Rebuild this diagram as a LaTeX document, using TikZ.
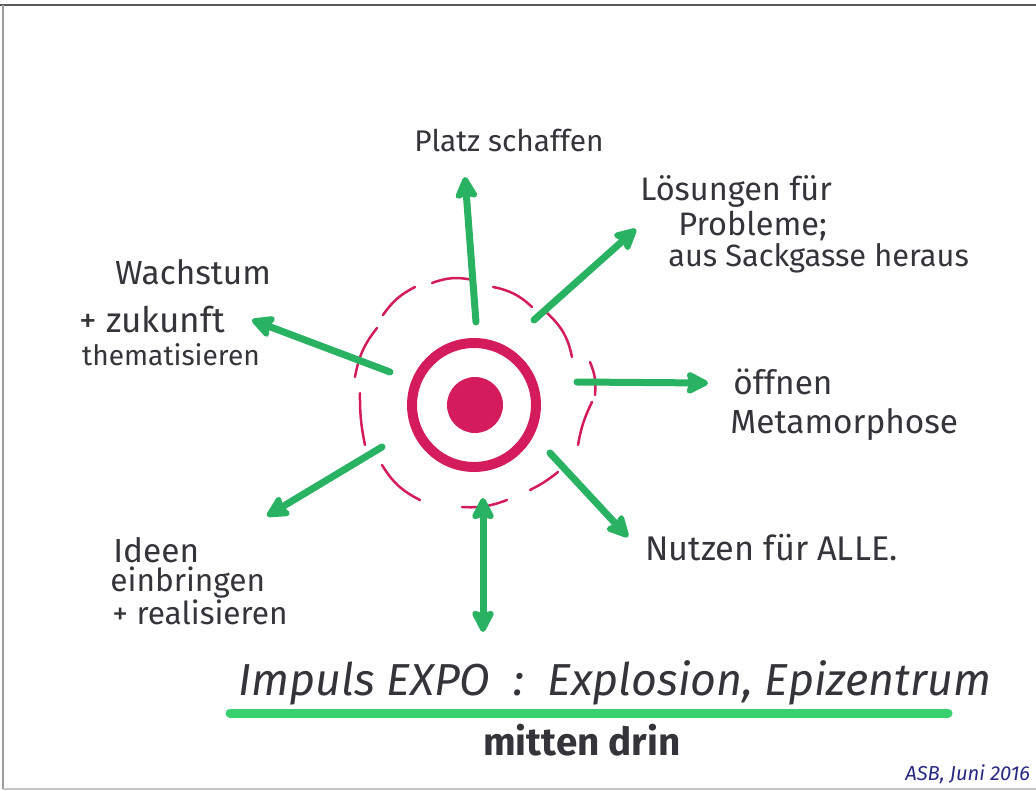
\documentclass[tikz,border=0pt]{standalone}
\usepackage{fontspec}
\setmainfont{Fira Sans}
\usetikzlibrary{arrows.meta}

\definecolor{marker}{RGB}{40,178,98}
\definecolor{underl}{RGB}{58,208,112}
\definecolor{rose}{RGB}{212,28,92}
\definecolor{ink}{RGB}{52,52,58}
\definecolor{sigblue}{RGB}{40,42,130}
\definecolor{edge}{RGB}{90,90,90}

\tikzset{
  ray/.style={draw=marker, line width=0.14cm, line cap=round, line join=round,
    -{Stealth[length=0.52cm,width=0.52cm,inset=0.08cm,round]}},
  biray/.style={ray, {Stealth[length=0.52cm,width=0.52cm,inset=0.08cm,round]}-{Stealth[length=0.52cm,width=0.52cm,inset=0.08cm,round]}},
  halo/.style={draw=rose, line width=0.05cm, line cap=round},
  hand/.style={text=ink, inner sep=0pt},
  handw/.style={hand, anchor=west},
}
\newcommand{\fs}[1]{\fontsize{#1}{#1}\selectfont}

\begin{document}
\begin{tikzpicture}[x=0.02cm, y=-0.02cm]
  \useasboundingbox (0,0) rectangle (1036,791);
  \fill[white] (0,0) rectangle (1036,791);

  % edge of the scanned sheet
  \draw[edge, line width=0.04cm] (0,5) -- (1036,5);
  \draw[edge!60, line width=0.03cm] (3,5) -- (3,789);
  \draw[edge!35, line width=0.03cm] (3,789) -- (1036,789);

  % centre: ring and dot
  \node (ring) [circle, draw=rose, line width=0.2cm, minimum size=2.48cm, inner sep=0pt] at (474,405) {};
  \node (dot) [circle, fill=rose, minimum size=1.12cm, inner sep=0pt] at (475,405) {};

  % dashed halo around the centre, scallops bulging outwards
  \draw[halo] (355,377) to[bend left=14] (377,328);
  \draw[halo] (383,315) to[bend left=14] (415,287);
  \draw[halo] (432,283) to[bend left=16] (473,280);
  \draw[halo] (493,287) to[bend left=16] (532,307);
  \draw[halo] (547,313) to[bend left=18] (572,357);
  \draw[halo] (590,362) to[bend left=14] (595,395);
  \draw[halo] (592,402) to[bend right=8] (578,445);
  \draw[halo] (558,472) to[bend left=6] (530,490);
  \draw[halo] (507,500) to[bend left=12] (462,507);
  \draw[halo] (420,500) to[bend left=16] (382,465);
  \draw[halo] (365,445) to[bend left=6] (360,393);

  % ray end points
  \coordinate (upS) at (476,322);   \coordinate (upE) at (465,177);
  \coordinate (urS) at (534,320);   \coordinate (urE) at (636,229);
  \coordinate (rS)  at (577,382);   \coordinate (rE)  at (708,383);
  \coordinate (drS) at (550,453);   \coordinate (drE) at (628,537);
  \coordinate (dS)  at (483,498);   \coordinate (dE)  at (483,632);
  \coordinate (dlS) at (382,447);   \coordinate (dlE) at (267,516);
  \coordinate (ulS) at (390,372);   \coordinate (ulE) at (252,320);

  \draw[ray] (upS) -- (upE);
  \draw[ray] (urS) -- (urE);
  \draw[ray] (rS) -- (rE);
  \draw[ray] (drS) -- (drE);
  \draw[biray] (dS) -- (dE);
  \draw[ray] (dlS) -- (dlE);
  \draw[ray] (ulS) -- (ulE);

  % labels
  \node (platz) [hand] at (509,140) {\fs{17}Platz schaffen};

  \node (loes1) [handw] at (640,191) {\fs{18.5}Lösungen für};
  \node (loes2) [handw] at (678,226) {\fs{18.5}Probleme;};
  \node (loes3) [handw] at (668,258) {\fs{17.5}aus Sackgasse heraus};

  \node (wachs1) [hand] at (193,272) {\fs{19}Wachstum};
  \node (wachs2) [hand] at (152,320) {\fs{20}+ zukunft};
  \node (wachs3) [hand] at (171,355) {\fs{16}thematisieren};

  \node (oeff1) [handw] at (733,382) {\fs{19}öffnen};
  \node (oeff2) [handw] at (730,425) {\fs{19}Metamorphose};

  \node (nutzen) [handw] at (645,548) {\fs{19.5}Nutzen für ALLE.};

  \node (ideen1) [handw] at (113,550) {\fs{19}Ideen};
  \node (ideen2) [handw] at (110,583) {\fs{18}einbringen};
  \node (ideen3) [handw] at (112,612) {\fs{18}+ realisieren};

  \node (title) [hand] at (615,683) {\fs{25.5}\itshape Impuls EXPO\ \ :\ \ Explosion, Epizentrum};
  \coordinate (ulA) at (230,713);
  \coordinate (ulB) at (948,713);
  \draw[underl, line width=0.18cm, line cap=round] (ulA) -- (ulB);
  \node (mitten) [hand] at (582,740) {\fs{22}\bfseries mitten drin};

  \node (sig) [anchor=west, text=sigblue, inner sep=0pt] at (905,774) {\fs{11.5}\itshape ASB, Juni 2016};
\end{tikzpicture}
\end{document}
